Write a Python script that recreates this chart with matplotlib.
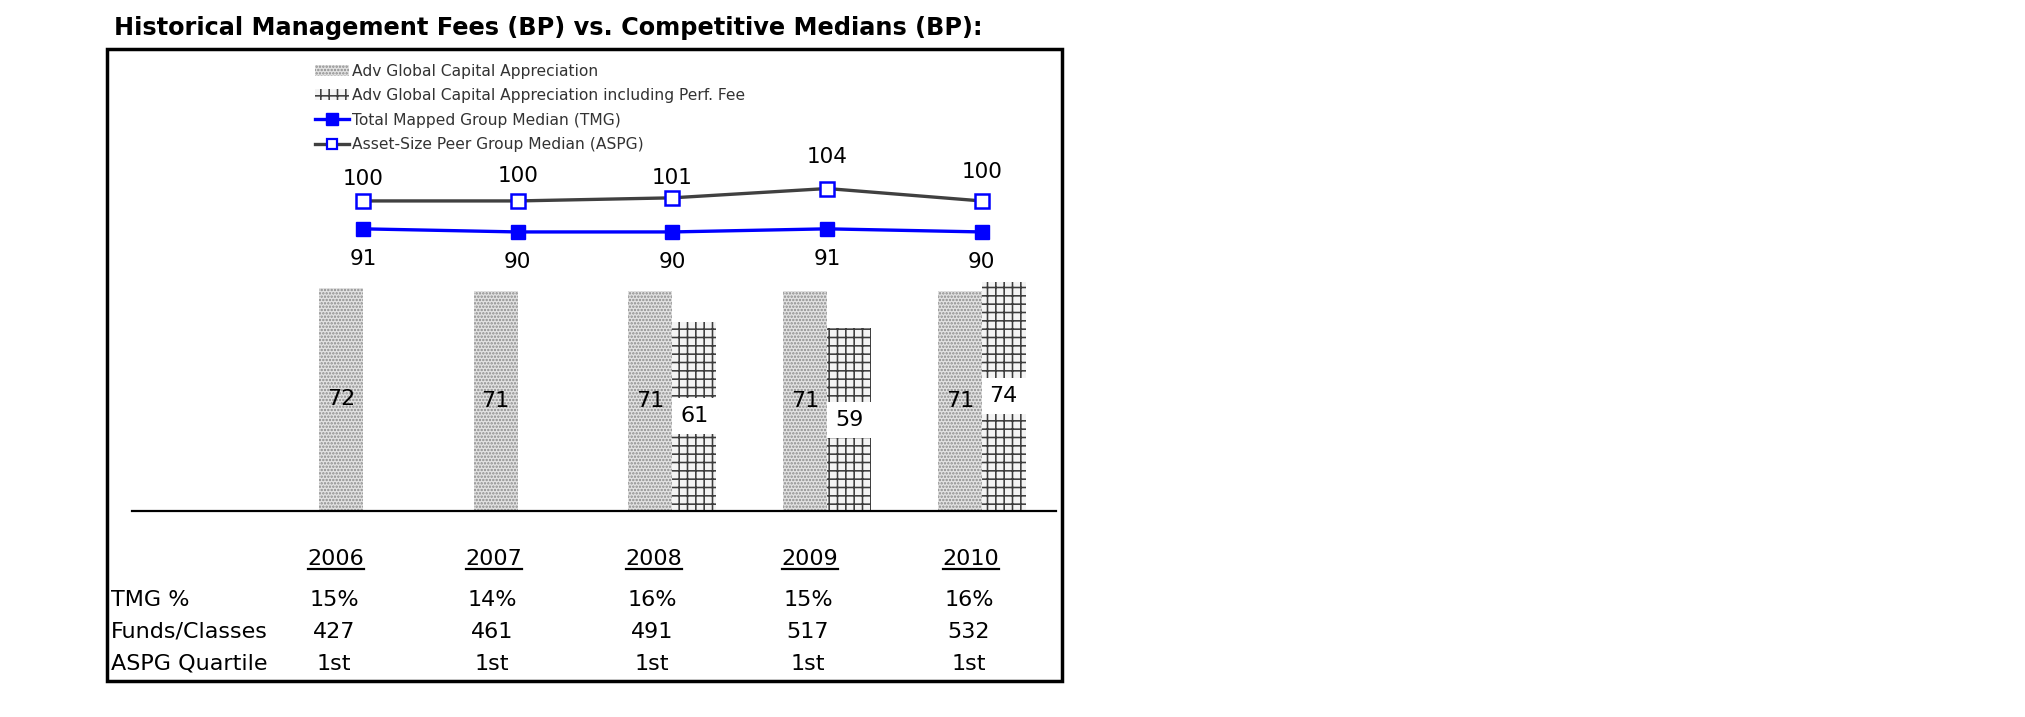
import matplotlib
matplotlib.use('Agg')
import matplotlib.pyplot as plt
from matplotlib.patches import Patch, Rectangle
from matplotlib.lines import Line2D
import numpy as np

# ---------------- data ----------------
title = "Historical Management Fees (BP) vs. Competitive Medians (BP):"
years = ['2006', '2007', '2008', '2009', '2010']
fee = [72, 71, 71, 71, 71]
fee_perf = [None, None, 61, 59, 74]
tmg = [91, 90, 90, 91, 90]
aspg = [100, 100, 101, 104, 100]
tmg_pct = ['15%', '14%', '16%', '15%', '16%']
funds = ['427', '461', '491', '517', '532']
quartile = ['1st', '1st', '1st', '1st', '1st']
row_labels = ['TMG %', 'Funds/Classes', 'ASPG Quartile']
legend_labels = ['Adv Global Capital Appreciation',
                 'Adv Global Capital Appreciation including Perf. Fee',
                 'Total Mapped Group Median (TMG)',
                 'Asset-Size Peer Group Median (ASPG)']

# ---------------- layout helpers ----------------
W, H = 2025, 717
plt.rcParams['font.family'] = ['DejaVu Sans']
plt.rcParams['hatch.linewidth'] = 1.15
fig = plt.figure(figsize=(W / 100, H / 100), dpi=100)
fig.patch.set_facecolor('white')


def fx(px):
    return px / W


def fy(py):
    return 1 - py / H


ax = fig.add_axes([fx(132), fy(511), fx(1056) - fx(132), fy(49) - fy(511)])
ax.set_xlim(-1.493, 4.48)
ax.set_ylim(0, 149)
ax.patch.set_alpha(0)

x = np.arange(len(years))
bw = 0.284
fee_fc = '#e2e2e2'
fee_hc = '#8a8a8a'
perf_hc = '#3c3c3c'

ax.bar(x - bw / 2, fee, bw, facecolor=fee_fc, edgecolor=fee_hc, hatch='.....', linewidth=0, zorder=2)
perf_idx = [i for i, v in enumerate(fee_perf) if v is not None]
perf_vals = [fee_perf[i] for i in perf_idx]
ax.bar(x[perf_idx] + bw / 2, perf_vals, bw, facecolor='#f4f4f4', edgecolor=perf_hc, hatch='++', linewidth=0, zorder=2)

for xi, v in zip(x, fee):
    ax.text(xi - bw / 2, v / 2, str(v), ha='center', va='center', fontsize=16, zorder=6)
for i, v in zip(perf_idx, perf_vals):
    ax.text(x[i] + bw / 2, v / 2, str(v), ha='center', va='center', fontsize=16, zorder=6,
            bbox=dict(boxstyle='square,pad=0.36', fc='white', ec='none'))

ax.plot(x, aspg, color='#404040', lw=2.4, marker='s', ms=10, mfc='white', mec='#0000ff', mew=1.8, zorder=4)
ax.plot(x, tmg, color='#0000ff', lw=2.4, marker='s', ms=10.5, mfc='#0000ff', mec='#0000ff', zorder=5)

aspg_off = [16, 18, 14, 23, 21]
for xi, v, off in zip(x, aspg, aspg_off):
    ax.annotate(str(v), (xi, v), xytext=(0, off), textcoords='offset points',
                ha='center', va='center', fontsize=15.5, zorder=6)
for xi, v in zip(x, tmg):
    ax.annotate(str(v), (xi, v), xytext=(0, -21.5), textcoords='offset points',
                ha='center', va='center', fontsize=15.5, zorder=6)

for s in ['top', 'left', 'right']:
    ax.spines[s].set_visible(False)
ax.spines['bottom'].set_linewidth(1.6)
ax.set_xticks([])
ax.set_yticks([])

# ---------------- legend ----------------
handles = [
    Patch(facecolor=fee_fc, edgecolor=fee_hc, hatch='.....', linewidth=0),
    Patch(facecolor='#f4f4f4', edgecolor=perf_hc, hatch='++', linewidth=0),
    Line2D([], [], color='#0000ff', lw=2.4, marker='s', ms=8, mfc='#0000ff', mec='#0000ff'),
    Line2D([], [], color='#404040', lw=2.4, marker='s', ms=7, mfc='white', mec='#0000ff', mew=1.6),
]
fig.legend(handles, legend_labels, loc='upper left', bbox_to_anchor=(fx(315), fy(64)),
           frameon=False, fontsize=11.2, handlelength=2.2, handletextpad=0.15,
           labelspacing=0.6, borderpad=0, borderaxespad=0, labelcolor='#333333')

# ---------------- frame and title ----------------
fig.add_artist(Rectangle((fx(107), fy(681)), fx(1062) - fx(107), fy(49) - fy(681),
                         transform=fig.transFigure, fill=False, lw=2.5, ec='black', zorder=10))

t = fig.text(fx(114), fy(28), title, fontsize=15, fontweight='bold', ha='left', va='center')
fig.canvas.draw()
r = fig.canvas.get_renderer()
wpx = t.get_window_extent(r).width
t.set_fontsize(15 * 868 / wpx)

# ---------------- table below ----------------
cols = [334, 492, 652, 808, 969]
year_texts = []
for c, yv in zip(cols, years):
    year_texts.append(fig.text(fx(c + 2), fy(565), yv, ha='center', va='baseline', fontsize=16))
rows_y = [600.5, 631.5, 664]
rows_vals = [tmg_pct, funds, quartile]
for ry, lab, vals in zip(rows_y, row_labels, rows_vals):
    fig.text(fx(111), fy(ry), lab, ha='left', va='center', fontsize=16)
    for c, v in zip(cols, vals):
        fig.text(fx(c), fy(ry), v, ha='center', va='center', fontsize=16)

fig.canvas.draw()
r = fig.canvas.get_renderer()
for yt in year_texts:
    bb = yt.get_window_extent(r)
    fig.add_artist(Line2D([bb.x0 / W, bb.x1 / W], [fy(568.5), fy(568.5)],
                          transform=fig.transFigure, color='black', lw=1.6))

fig.savefig('out.png', dpi=100, facecolor='white')
